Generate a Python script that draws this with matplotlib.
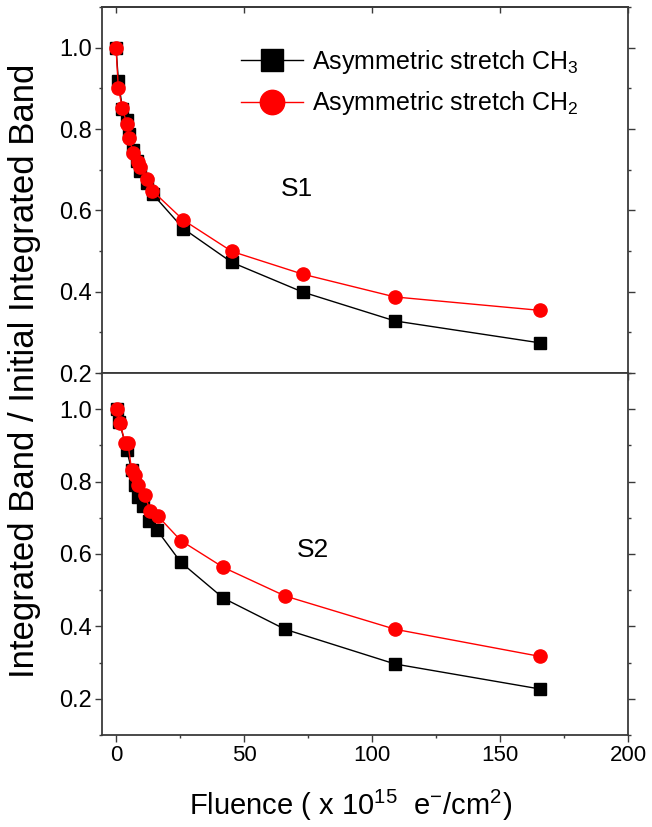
import numpy as np
import matplotlib
matplotlib.use('Agg')
import matplotlib.pyplot as plt
from matplotlib.ticker import MultipleLocator, FormatStrFormatter

plt.rcParams['font.family'] = ['Liberation Sans', 'DejaVu Sans']
plt.rcParams['mathtext.fontset'] = 'custom'
plt.rcParams['mathtext.rm'] = 'Liberation Sans'
plt.rcParams['mathtext.it'] = 'Liberation Sans:italic'

# S1 panel
s1_x_ch3 = [0, 0.9, 2.5, 4.2, 5.1, 6.5, 8.1, 9.4, 12.0, 14.3, 26.3, 45.2, 72.9, 108.9, 165.6]
s1_y_ch3 = [1.0, 0.919, 0.850, 0.823, 0.788, 0.749, 0.722, 0.697, 0.668, 0.640, 0.555, 0.472, 0.399, 0.328, 0.274]
s1_x_ch2 = [0, 0.9, 2.5, 4.2, 5.1, 6.8, 8.5, 9.4, 12.0, 14.2, 26.3, 45.2, 72.9, 108.9, 165.6]
s1_y_ch2 = [1.0, 0.900, 0.851, 0.812, 0.777, 0.740, 0.718, 0.707, 0.677, 0.648, 0.576, 0.499, 0.443, 0.387, 0.354]

# S2 panel
s2_x_ch3 = [0.3, 1.3, 4.2, 6.1, 7.4, 8.5, 10.7, 13.0, 15.9, 25.3, 41.9, 66.0, 109.0, 165.6]
s2_y_ch3 = [1.0, 0.966, 0.887, 0.831, 0.790, 0.757, 0.733, 0.690, 0.667, 0.577, 0.478, 0.392, 0.296, 0.227]
s2_x_ch2 = [0.3, 1.6, 3.5, 4.6, 6.1, 7.4, 8.7, 11.3, 13.3, 16.3, 25.3, 41.9, 66.0, 109.0, 165.6]
s2_y_ch2 = [1.0, 0.961, 0.908, 0.908, 0.831, 0.819, 0.790, 0.762, 0.719, 0.705, 0.637, 0.563, 0.484, 0.392, 0.317]

label_ch3 = 'Asymmetric stretch CH$_3$'
label_ch2 = 'Asymmetric stretch CH$_2$'

fig = plt.figure(figsize=(6.52, 8.27), dpi=100)
left, right = 101.7 / 652, 628.3 / 652
y_top, y_mid, y_bot = 1 - 7 / 827, 1 - 373 / 827, 1 - 735 / 827
ax1 = fig.add_axes([left, y_mid, right - left, y_top - y_mid])
ax2 = fig.add_axes([left, y_bot, right - left, y_mid - y_bot])

spine_col = '#3a3a3a'
for ax in (ax1, ax2):
    for s in ax.spines.values():
        s.set_color(spine_col)
        s.set_linewidth(1.3)
    ax.set_xlim(-5.6, 200)
    ax.xaxis.set_major_locator(MultipleLocator(50))
    ax.xaxis.set_minor_locator(MultipleLocator(25))
    ax.yaxis.set_major_locator(MultipleLocator(0.2))
    ax.yaxis.set_minor_locator(MultipleLocator(0.1))
    ax.yaxis.set_major_formatter(FormatStrFormatter('%.1f'))
    ax.tick_params(axis='both', which='major', length=5, width=1.0, color=spine_col, pad=2)
    ax.tick_params(axis='both', which='minor', length=2.5, width=1.0, color=spine_col)
    ax.tick_params(axis='x', which='major', labelsize=16)
    ax.tick_params(axis='y', which='major', labelsize=17)
    ax.tick_params(axis='y', which='both', direction='out', right=True, labelright=False)
    ax.tick_params(axis='x', which='both', direction='out', top=False)

ax1.tick_params(axis='x', which='both', labelbottom=False)
top_ax = ax1.secondary_xaxis('top')
top_ax.xaxis.set_major_locator(MultipleLocator(50))
top_ax.tick_params(axis='x', direction='in', length=4, width=1.0, color=spine_col, labeltop=False)
top_ax.spines['top'].set_color(spine_col)
top_ax.spines['top'].set_linewidth(1.3)

ax1.set_ylim(0.2, 1.1)
ax2.set_ylim(0.1, 1.1)
ax1.set_yticks([0.2, 0.4, 0.6, 0.8, 1.0])
ax2.set_yticks([0.2, 0.4, 0.6, 0.8, 1.0])

ax1.plot(s1_x_ch3, s1_y_ch3, '-', color='black', lw=1.0, marker='s', ms=8.5,
         mec='black', mfc='black', label=label_ch3)
ax1.plot(s1_x_ch2, s1_y_ch2, '-', color='red', lw=1.0, marker='o', ms=9.5,
         mec='red', mfc='red', label=label_ch2)
ax2.plot(s2_x_ch3, s2_y_ch3, '-', color='black', lw=1.0, marker='s', ms=8.5,
         mec='black', mfc='black')
ax2.plot(s2_x_ch2, s2_y_ch2, '-', color='red', lw=1.0, marker='o', ms=9.5,
         mec='red', mfc='red')

leg = ax1.legend(loc='upper left', bbox_to_anchor=(0.2645, 0.889), frameon=False,
                 fontsize=18, markerscale=1.85, handlelength=2.5, handletextpad=0.35,
                 labelspacing=0.55, borderpad=0, borderaxespad=0)

ax1.text(70.7, 0.652, 'S1', fontsize=19, ha='center', va='center')
ax2.text(77.0, 0.610, 'S2', fontsize=19, ha='center', va='center')

fig.text(25 / 652, 1 - 371 / 827, 'Integrated Band / Initial Integrated Band',
         rotation=90, ha='center', va='center', fontsize=25)
fig.text(351 / 652, 1 - 805 / 827, r'Fluence ( x 10$^{15}$  e$^{-}$/cm$^{2}$)',
         ha='center', va='center', fontsize=21)

fig.savefig('out.png', dpi=100, facecolor='white')
